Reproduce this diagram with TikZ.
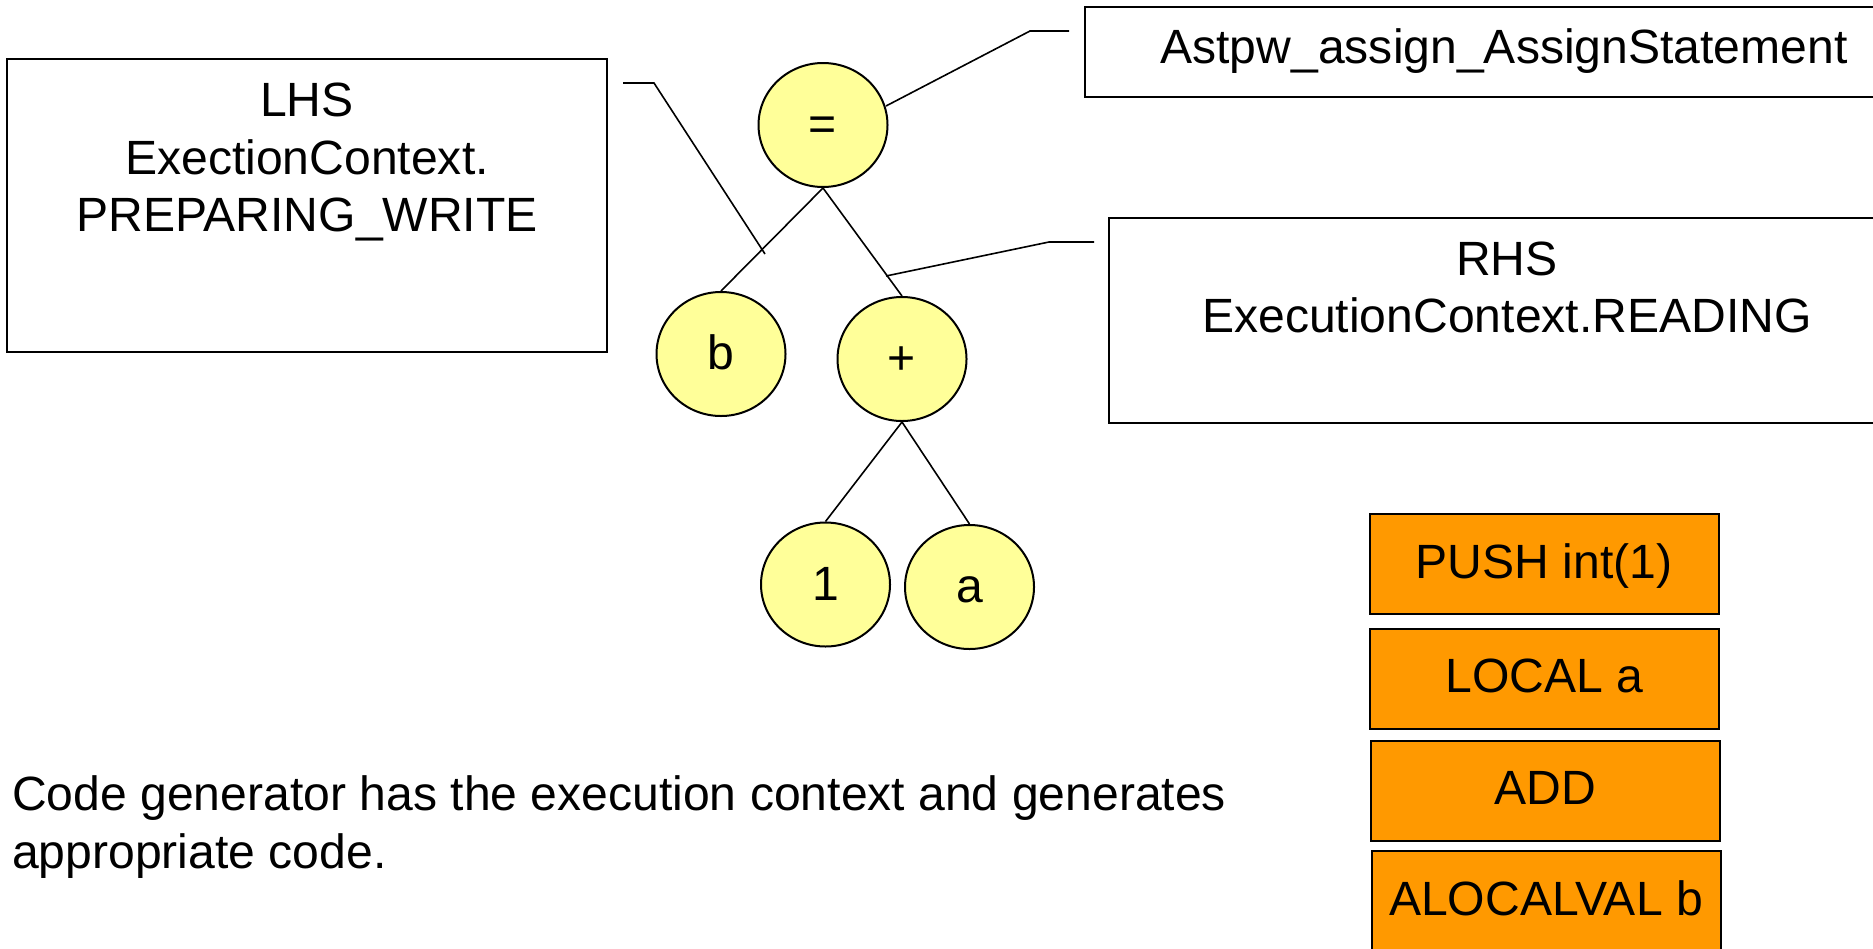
\documentclass[tikz,border=0pt]{standalone}
\usepackage{fontspec}
\setmainfont{Liberation Sans}
\usetikzlibrary{shapes.geometric}
\definecolor{nodeyellow}{HTML}{FFFF99}
\definecolor{opcode}{HTML}{FF9900}
\begin{document}
\begin{tikzpicture}[x=1pt,y=-1pt,
  bigfont/.style={font=\fontsize{48.1}{57.5}\selectfont},
  txt/.style={bigfont, inner sep=0pt, anchor=base},
  frame/.style={draw=black, line width=2pt, fill=white, inner sep=0pt},
  treenode/.style={ellipse, draw=black, line width=2pt, fill=nodeyellow,
    minimum width=129pt, minimum height=124pt, inner sep=0pt, bigfont,
    text height=34pt, text depth=3pt},
  opbox/.style={draw=black, line width=2pt, fill=opcode,
    minimum width=349pt, minimum height=100pt, inner sep=0pt, bigfont,
    text height=34pt, text depth=6pt},
  edge/.style={line width=1.6pt},
  callout/.style={line width=1.6pt}]

\useasboundingbox (0,0) rectangle (1873,948);
\clip (0,0) rectangle (1873,948);

% text frames
\node[frame, minimum width=600pt, minimum height=293pt] (lhs) at (307,205.5) {};
\node[txt] (lhs1) at (307,116) {LHS};
\node[txt] (lhs2) at (307,174) {ExectionContext.};
\node[txt] (lhs3) at (307,231) {PREPARING\_WRITE};

\node[frame, minimum width=838pt, minimum height=90pt] (ast) at (1504,52) {};
\node[txt] (asttext) at (1504,63) {Astpw\_assign\_AssignStatement};

\node[frame, minimum width=796pt, minimum height=205pt] (rhs) at (1507,320.5) {};
\node[txt] (rhs1) at (1507,275) {RHS};
\node[txt] (rhs2) at (1507,332) {ExecutionContext.READING};

% expression tree
\node[treenode] (eq) at (823,125) {=};
\node[treenode] (b) at (721,354) {b};
\node[treenode] (plus) at (902,359) {+};
\node[treenode] (one) at (825.5,584.5) {1};
\node[treenode] (a) at (969.5,587) {a};

\draw[edge] (eq.south) -- (b.north);
\draw[edge] (eq.south) -- (plus.north);
\draw[edge] (plus.south) -- (one.north);
\draw[edge] (plus.south) -- (a.north);

% callout lines
\coordinate (lhsA) at (623,83);
\coordinate (lhsB) at (654,83);
\coordinate (lhsC) at (765,254);
\draw[callout] (lhsA) -- (lhsB) -- (lhsC);

\coordinate (astA) at (1069,31);
\coordinate (astB) at (1030,31);
\coordinate (astC) at (886,106);
\draw[callout] (astA) -- (astB) -- (astC);

\coordinate (rhsA) at (1094,242);
\coordinate (rhsB) at (1049,242);
\coordinate (rhsC) at (886,276);
\draw[callout] (rhsA) -- (rhsB) -- (rhsC);

% generated code
\node[opbox] (op1) at (1544,564) {PUSH int(1)};
\node[opbox] (op2) at (1544.5,678.5) {LOCAL a};
\node[opbox] (op3) at (1545,790.5) {ADD};
\node[opbox] (op4) at (1546,901) {ALOCALVAL b};

% note
\node[txt, anchor=base west] (note1) at (12,810) {Code generator has the execution context and generates};
\node[txt, anchor=base west] (note2) at (12,868) {appropriate code.};
\end{tikzpicture}
\end{document}
